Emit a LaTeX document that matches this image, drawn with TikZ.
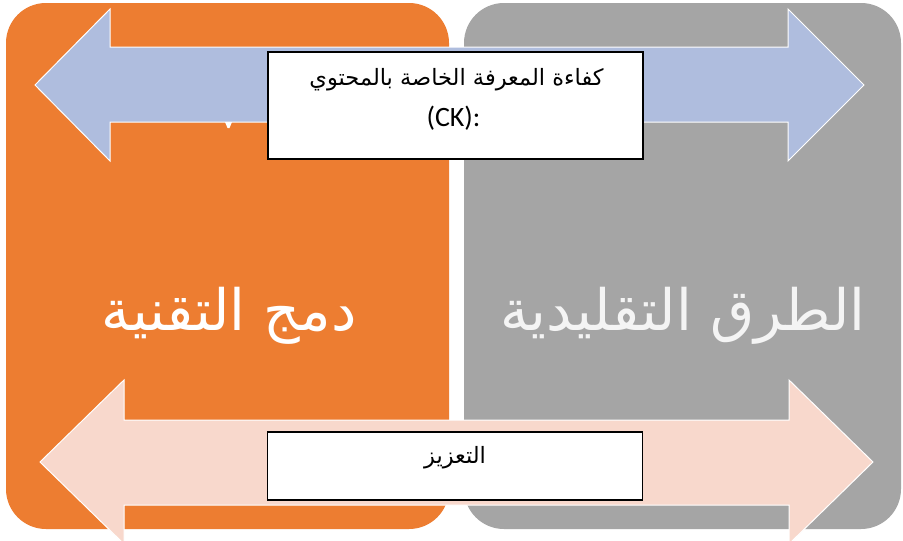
\documentclass[tikz,border=0pt]{standalone}
\usepackage{fontspec}
\setmainfont{Carlito}
\newfontfamily\arabicfont[Script=Arabic]{DejaVu Sans}
\TeXXeTstate=1
\definecolor{panelorange}{HTML}{ED7D31}
\definecolor{panelgray}{HTML}{A5A5A5}
\definecolor{arrowblue}{HTML}{AFBDDE}
\definecolor{arrowpink}{HTML}{F8D8CC}
\definecolor{offwhite}{HTML}{F4F4F4}
\tikzset{
  panel/.style={rounded corners=40pt},
  dblarrow/.style={draw=white, line width=1pt, line join=miter},
  textbox/.style={draw=black, fill=white, line width=1.2pt, rectangle, inner sep=0pt},
  bigtext/.style={font=\arabicfont\fontsize{57}{64}\selectfont, inner sep=0pt, anchor=base},
  arsmall/.style={font=\arabicfont\fontsize{22.5}{27}\selectfont, inner sep=0pt, anchor=base},
  latsmall/.style={font=\fontsize{28}{32}\selectfont, inner sep=0pt, anchor=base}
}
\begin{document}
\begin{tikzpicture}[x=1pt,y=-1pt]
\useasboundingbox (0,0) rectangle (903,541);
\clip (0,0) rectangle (903,541);
\fill[white] (0,0) rectangle (903,541);
% panels
\fill[panelorange, panel] (6,3) rectangle (449,529);
\fill[panelgray, panel] (464,3) rectangle (901,529);
% big texts
\node[bigtext, text=white] (tech) at (229,330) {\beginR دمج التقنية\endR};
\node[bigtext, text=offwhite] (trad) at (683,330) {\beginR الطرق التقليدية\endR};
% top double arrow
\path[fill=arrowblue, dblarrow] (35,85) -- (110,9) -- (110,47) -- (788,47) -- (788,9) -- (864,85) -- (788,161) -- (788,122) -- (110,122) -- (110,161) -- cycle;
% small white mark
\fill[white] (225,122) -- (232,122) -- (229.5,128) -- (227.5,128) -- cycle;
% bottom double arrow
\path[fill=arrowpink, dblarrow] (40,462) -- (124,380) -- (124,420) -- (789,420) -- (789,380) -- (873,462) -- (789,544) -- (789,505) -- (124,505) -- (124,544) -- cycle;
% boxes
\node[textbox, minimum width=375pt, minimum height=107pt] (ckbox) at (455.5,105.5) {};
\node[arsmall] (cktext) at (456.5,85) {\beginR كفاءة المعرفة الخاصة بالمحتوي\endR};
\node[latsmall] (cklabel) at (453.5,126) {(CK):};
\node[textbox, minimum width=375pt, minimum height=68pt] (rbox) at (455,466) {};
\node[arsmall] (rtext) at (455,463) {\beginR التعزيز\endR};
\end{tikzpicture}
\end{document}
